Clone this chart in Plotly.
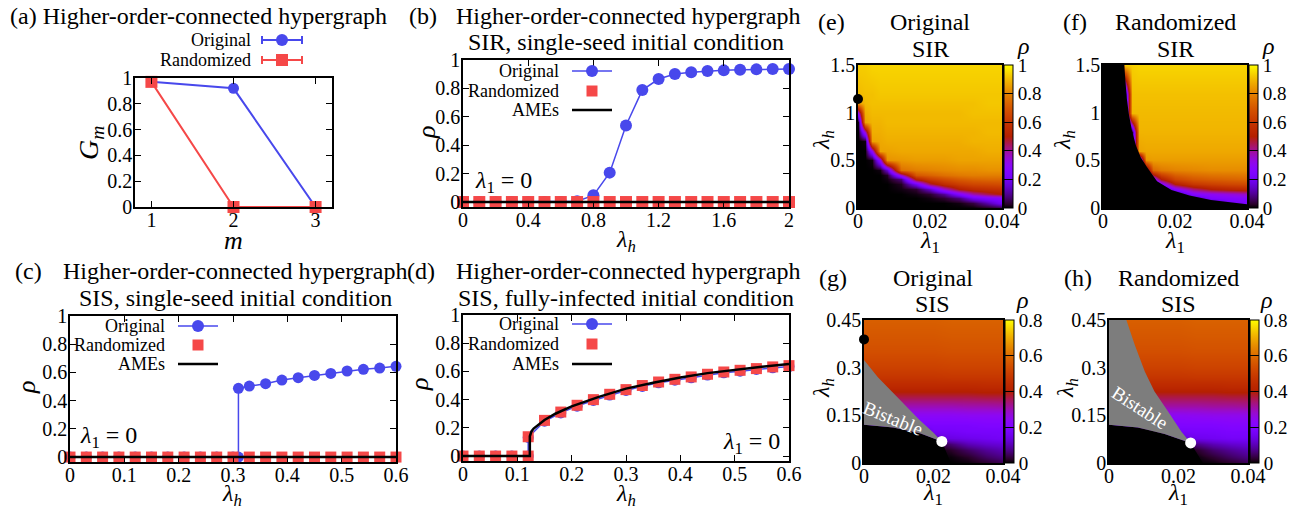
import plotly.graph_objects as go
import numpy as np

W, H = 1305, 510
SERIF = "Liberation Serif"
BLUE = "rgb(72,72,236)"
RED = "rgb(245,72,72)"
GRAY = "rgb(125,125,125)"

# ---------------- data ----------------
# (a) giant component of m-th order
m_vals = [1, 2, 3]
gm_original = [0.97, 0.92, 0.0]
gm_randomized = [0.97, 0.0, 0.0]

# (b) SIR, single seed
lh_b = [0.0, 0.1, 0.2, 0.3, 0.4, 0.5, 0.6, 0.7, 0.8, 0.9, 1.0, 1.1, 1.2, 1.3, 1.4, 1.5, 1.6, 1.7, 1.8, 1.9, 2.0]
rho_b_original = [0.0, 0.0, 0.0, 0.0, 0.0, 0.0, 0.0, 0.005, 0.047, 0.207, 0.539, 0.788, 0.866, 0.901,
                  0.913, 0.922, 0.927, 0.932, 0.934, 0.936, 0.936]
rho_b_randomized = [0.0, 0.0, 0.0, 0.0, 0.0, 0.0, 0.0, 0.0, 0.0, 0.0, 0.0, 0.0, 0.0, 0.0, 0.0, 0.0,
                    0.0, 0.0, 0.0, 0.0, 0.0]
ame_b_lh = [0.0, 2.0]
ame_b_rho = [0.0, 0.0]

# (c) SIS, single seed
lh_c_rand = [0.0, 0.03, 0.06, 0.09, 0.12, 0.15, 0.18, 0.21, 0.24, 0.27, 0.3, 0.33, 0.36, 0.39, 0.42,
             0.45, 0.48, 0.51, 0.54, 0.57, 0.6]
rho_c_rand = [0.0, 0.0, 0.0, 0.0, 0.0, 0.0, 0.0, 0.0, 0.0, 0.0, 0.0, 0.0, 0.0, 0.0, 0.0, 0.0, 0.0,
              0.0, 0.0, 0.0, 0.0]
lh_c_orig = [0.0, 0.03, 0.06, 0.09, 0.12, 0.15, 0.18, 0.21, 0.24, 0.27, 0.3, 0.31, 0.31, 0.33, 0.36,
             0.39, 0.42, 0.45, 0.48, 0.51, 0.54, 0.57, 0.6]
rho_c_orig = [0.0, 0.0, 0.0, 0.0, 0.0, 0.0, 0.0, 0.0, 0.0, 0.0, 0.0, 0.0, 0.487, 0.503, 0.52, 0.546,
              0.563, 0.579, 0.593, 0.61, 0.622, 0.631, 0.643]
ame_c_lh = [0.0, 0.6]
ame_c_rho = [0.0, 0.0]

# (d) SIS, fully infected
lh_d = [0.0, 0.03, 0.06, 0.09, 0.12, 0.12, 0.15, 0.18, 0.21, 0.24, 0.27, 0.3, 0.33, 0.36, 0.39, 0.42,
        0.45, 0.48, 0.51, 0.54, 0.57, 0.6]
rho_d_rand = [0.0, 0.0, 0.0, 0.0, 0.0, 0.137, 0.253, 0.312, 0.36, 0.40, 0.438, 0.471, 0.50, 0.525,
              0.544, 0.561, 0.58, 0.596, 0.608, 0.62, 0.632, 0.641]
rho_d_orig = [0.0, 0.0, 0.0, 0.0, 0.0, 0.132, 0.247, 0.306, 0.354, 0.394, 0.432, 0.465, 0.494, 0.519,
              0.538, 0.555, 0.574, 0.59, 0.602, 0.614, 0.626, 0.635]
ame_d_lh = [0.0, 0.123, 0.123, 0.126, 0.13, 0.14, 0.15, 0.17, 0.2, 0.25, 0.3, 0.35, 0.4, 0.45, 0.5,
            0.55, 0.6]
ame_d_rho = [0.0, 0.0, 0.14, 0.175, 0.195, 0.228, 0.256, 0.3, 0.352, 0.42, 0.478, 0.52, 0.557, 0.588,
             0.612, 0.633, 0.652]

# (e) Original SIR phase diagram
e_l1 = [0.0, 0.002, 0.004, 0.006, 0.008, 0.012, 0.016, 0.02, 0.024, 0.028, 0.032, 0.036, 0.04]
e_lh = [0.0, 0.05, 0.1, 0.15, 0.2, 0.25, 0.3, 0.35, 0.4, 0.5, 0.6, 0.7, 0.8, 0.9, 1.0, 1.1, 1.2, 1.5]
e_rho = [
    [0, 0, 0, 0, 0, 0, 0, 0, 0, 0, 0, 0.01, 0.03],
    [0, 0, 0, 0, 0, 0, 0, 0, 0, 0.01, 0.04, 0.12, 0.21],
    [0, 0, 0, 0, 0, 0, 0, 0.01, 0.03, 0.08, 0.2, 0.25, 0.27],
    [0, 0, 0, 0, 0, 0, 0.01, 0.03, 0.1, 0.25, 0.38, 0.45, 0.5],
    [0, 0, 0, 0, 0, 0.01, 0.03, 0.15, 0.35, 0.5, 0.55, 0.57, 0.58],
    [0, 0, 0, 0, 0, 0.02, 0.2, 0.45, 0.56, 0.62, 0.65, 0.66, 0.67],
    [0, 0, 0, 0, 0.01, 0.08, 0.52, 0.62, 0.67, 0.71, 0.73, 0.74, 0.74],
    [0, 0, 0, 0, 0.02, 0.35, 0.7, 0.73, 0.76, 0.78, 0.79, 0.79, 0.79],
    [0, 0, 0, 0.01, 0.15, 0.76, 0.79, 0.8, 0.81, 0.82, 0.82, 0.83, 0.83],
    [0, 0, 0.01, 0.3, 0.83, 0.84, 0.85, 0.85, 0.85, 0.86, 0.86, 0.86, 0.86],
    [0, 0, 0.3, 0.86, 0.86, 0.87, 0.87, 0.87, 0.87, 0.87, 0.87, 0.88, 0.88],
    [0, 0.01, 0.86, 0.87, 0.88, 0.88, 0.88, 0.88, 0.88, 0.88, 0.89, 0.89, 0.89],
    [0, 0.35, 0.88, 0.88, 0.89, 0.89, 0.89, 0.89, 0.89, 0.89, 0.89, 0.9, 0.9],
    [0.01, 0.86, 0.89, 0.89, 0.9, 0.9, 0.9, 0.9, 0.9, 0.9, 0.9, 0.9, 0.9],
    [0.3, 0.88, 0.9, 0.9, 0.9, 0.9, 0.9, 0.9, 0.9, 0.9, 0.91, 0.91, 0.91],
    [0.85, 0.9, 0.91, 0.91, 0.91, 0.91, 0.91, 0.91, 0.91, 0.91, 0.91, 0.92, 0.92],
    [0.9, 0.91, 0.91, 0.92, 0.92, 0.92, 0.92, 0.92, 0.92, 0.92, 0.92, 0.92, 0.92],
    [0.93, 0.93, 0.94, 0.94, 0.94, 0.94, 0.94, 0.94, 0.94, 0.94, 0.94, 0.94, 0.94],
]
e_dot_l1 = [0.0]
e_dot_lh = [1.143]

# (f) Randomized SIR phase diagram
f_l1 = [0.0, 0.004, 0.006, 0.008, 0.01, 0.012, 0.014, 0.016, 0.02, 0.025, 0.03, 0.035, 0.04]
f_lh = [0.0, 0.05, 0.1, 0.15, 0.2, 0.25, 0.3, 0.4, 0.5, 0.6, 0.8, 1.0, 1.2, 1.5]
f_rho = [
    [0, 0, 0, 0, 0, 0, 0, 0, 0, 0, 0, 0, 0],
    [0, 0, 0, 0, 0, 0, 0, 0, 0, 0, 0.05, 0.2, 0.24],
    [0, 0, 0, 0, 0, 0, 0, 0, 0, 0.1, 0.24, 0.26, 0.27],
    [0, 0, 0, 0, 0, 0, 0, 0, 0.05, 0.26, 0.3, 0.33, 0.36],
    [0, 0, 0, 0, 0, 0, 0, 0.02, 0.27, 0.42, 0.5, 0.53, 0.55],
    [0, 0, 0, 0, 0, 0, 0.03, 0.25, 0.5, 0.6, 0.63, 0.65, 0.66],
    [0, 0, 0, 0, 0, 0.01, 0.25, 0.5, 0.65, 0.7, 0.72, 0.73, 0.74],
    [0, 0, 0, 0, 0, 0.3, 0.74, 0.78, 0.8, 0.81, 0.82, 0.82, 0.82],
    [0, 0, 0, 0, 0.01, 0.84, 0.85, 0.85, 0.85, 0.85, 0.85, 0.85, 0.85],
    [0, 0, 0, 0, 0.86, 0.87, 0.87, 0.87, 0.87, 0.87, 0.87, 0.87, 0.87],
    [0, 0, 0, 0.02, 0.89, 0.89, 0.89, 0.89, 0.89, 0.89, 0.89, 0.89, 0.89],
    [0, 0, 0, 0.9, 0.9, 0.9, 0.9, 0.9, 0.9, 0.9, 0.9, 0.9, 0.9],
    [0, 0, 0.02, 0.91, 0.91, 0.91, 0.91, 0.91, 0.91, 0.91, 0.91, 0.91, 0.91],
    [0, 0, 0.93, 0.93, 0.94, 0.94, 0.94, 0.94, 0.94, 0.94, 0.94, 0.94, 0.94],
]
f_dead_l1 = [0.0, 0.0, 0.0059, 0.0062, 0.0066, 0.0072, 0.0081, 0.0092, 0.0105, 0.0122, 0.0135, 0.015,
             0.019, 0.024, 0.03, 0.035, 0.04, 0.04, 0.0]
f_dead_lh = [0.0, 1.5, 1.5, 1.35, 1.15, 0.98, 0.8, 0.65, 0.53, 0.43, 0.36, 0.28, 0.19, 0.13, 0.085,
             0.06, 0.04, 0.0, 0.0]

# (g) Original SIS phase diagram
g_l1 = [0.0, 0.01, 0.02, 0.025, 0.03, 0.035, 0.04]
g_lh = [0.0, 0.02, 0.04, 0.06, 0.08, 0.1, 0.12, 0.15, 0.18, 0.21, 0.24, 0.27, 0.3, 0.35, 0.4, 0.45]
g_rho = [
    [0, 0, 0, 0, 0.005, 0.02, 0.04],
    [0, 0, 0, 0.005, 0.02, 0.05, 0.07],
    [0, 0, 0, 0.02, 0.05, 0.08, 0.1],
    [0, 0, 0.02, 0.06, 0.1, 0.12, 0.13],
    [0, 0, 0.12, 0.14, 0.15, 0.16, 0.17],
    [0, 0, 0.17, 0.17, 0.18, 0.18, 0.18],
    [0.15, 0.18, 0.19, 0.19, 0.19, 0.2, 0.2],
    [0.23, 0.235, 0.235, 0.235, 0.24, 0.24, 0.24],
    [0.3, 0.3, 0.3, 0.3, 0.305, 0.305, 0.31],
    [0.37, 0.37, 0.37, 0.37, 0.37, 0.375, 0.375],
    [0.43, 0.43, 0.43, 0.43, 0.43, 0.435, 0.435],
    [0.475, 0.475, 0.475, 0.48, 0.48, 0.48, 0.48],
    [0.505, 0.505, 0.505, 0.51, 0.51, 0.51, 0.51],
    [0.54, 0.54, 0.54, 0.545, 0.545, 0.545, 0.545],
    [0.56, 0.56, 0.56, 0.565, 0.565, 0.565, 0.565],
    [0.575, 0.575, 0.575, 0.58, 0.58, 0.58, 0.58],
]
g_dead_l1 = [0.0, 0.0, 0.0084, 0.0161, 0.0224, 0.025, 0.0]
g_dead_lh = [0.0, 0.12, 0.112, 0.094, 0.068, 0.0, 0.0]
g_bist_l1 = [0.0, 0.004, 0.008, 0.012, 0.016, 0.02, 0.0224, 0.0161, 0.0084, 0.0, 0.0]
g_bist_lh = [0.324, 0.27, 0.225, 0.18, 0.135, 0.095, 0.068, 0.094, 0.112, 0.12, 0.324]
g_black_dot = ([0.0], [0.389])
g_white_dot = ([0.0224], [0.068])

# (h) Randomized SIS phase diagram
h_l1 = [0.0, 0.01, 0.02, 0.025, 0.03, 0.035, 0.04]
h_lh = [0.0, 0.02, 0.04, 0.06, 0.08, 0.1, 0.12, 0.15, 0.18, 0.21, 0.24, 0.27, 0.3, 0.35, 0.4, 0.45]
h_rho = [
    [0, 0, 0, 0, 0.005, 0.02, 0.04],
    [0, 0, 0, 0.005, 0.025, 0.05, 0.07],
    [0, 0, 0, 0.02, 0.055, 0.08, 0.1],
    [0, 0, 0.02, 0.07, 0.1, 0.12, 0.13],
    [0, 0, 0.13, 0.15, 0.16, 0.17, 0.17],
    [0, 0, 0.17, 0.18, 0.18, 0.19, 0.19],
    [0.19, 0.19, 0.2, 0.2, 0.2, 0.21, 0.21],
    [0.24, 0.24, 0.24, 0.245, 0.25, 0.25, 0.25],
    [0.31, 0.31, 0.31, 0.31, 0.315, 0.315, 0.32],
    [0.37, 0.37, 0.37, 0.37, 0.37, 0.375, 0.375],
    [0.43, 0.43, 0.43, 0.43, 0.43, 0.435, 0.435],
    [0.475, 0.475, 0.475, 0.48, 0.48, 0.48, 0.48],
    [0.505, 0.505, 0.505, 0.51, 0.51, 0.51, 0.51],
    [0.54, 0.54, 0.54, 0.545, 0.545, 0.545, 0.545],
    [0.56, 0.56, 0.56, 0.565, 0.565, 0.565, 0.565],
    [0.575, 0.575, 0.575, 0.58, 0.58, 0.58, 0.58],
]
h_dead_l1 = [0.0, 0.0, 0.0083, 0.016, 0.0235, 0.027, 0.0]
h_dead_lh = [0.0, 0.12, 0.112, 0.091, 0.063, 0.0, 0.0]
h_bist_l1 = [0.0, 0.0, 0.005, 0.0074, 0.0103, 0.0131, 0.017, 0.0208, 0.0235, 0.016, 0.0083, 0.0]
h_bist_lh = [0.12, 0.45, 0.45, 0.372, 0.288, 0.225, 0.162, 0.099, 0.063, 0.091, 0.112, 0.12]
h_white_dot = ([0.0235], [0.063])

# ---------------- layout helpers ----------------
# gnuplot-like palette (style)
cs = []
for i in range(41):
    t = i / 40
    r, g, b = t ** 0.5, t ** 3, max(0.0, np.sin(2 * np.pi * t))
    cs.append([t, "rgb(%d,%d,%d)" % (round(r * 255), round(g * 255), round(b * 255))])

fig = go.Figure()
annotations, shapes = [], []


def PX(x):
    return x / W


def PY(y):
    return 1 - y / H


def text(t, x, y, size, xanchor="center", angle=0, color="black"):
    annotations.append(dict(text=t, x=PX(x), y=PY(y), xref="paper", yref="paper", xanchor=xanchor,
                            yanchor="middle", showarrow=False, textangle=angle,
                            font=dict(family=SERIF, size=size, color=color)))


# panel geometry in pixels: (x0, x1, ytop, ybottom)
geo = {
    1: (135, 332, 78, 207), 2: (463, 789, 60, 207), 3: (70, 396, 316, 462), 4: (463, 789, 315, 461),
    5: (858, 1002, 65, 208), 6: (1103, 1247, 65, 208), 7: (864, 1003, 320, 463), 8: (1109, 1248, 320, 463),
}
ranges = {
    1: ([0.8, 3.2], [0, 1]), 2: ([0, 2], [-0.035, 1]), 3: ([0, 0.6], [-0.035, 1]), 4: ([0, 0.6], [-0.035, 1]),
    5: ([0, 0.04], [0, 1.5]), 6: ([0, 0.04], [0, 1.5]), 7: ([0, 0.04], [0, 0.45]), 8: ([0, 0.04], [0, 0.45]),
}
yt01 = ([0, 0.2, 0.4, 0.6, 0.8, 1], ["0", "0.2", "0.4", "0.6", "0.8", "1"])
xt06 = ([0, 0.1, 0.2, 0.3, 0.4, 0.5, 0.6], ["0", "0.1", "0.2", "0.3", "0.4", "0.5", "0.6"])
xt04 = ([0, 0.02, 0.04], ["0", "0.02", "0.04"])
ticks = {
    1: (([1, 2, 3], ["1", "2", "3"]), yt01),
    2: (([0, 0.4, 0.8, 1.2, 1.6, 2], ["0", "0.4", "0.8", "1.2", "1.6", "2"]), yt01),
    3: (xt06, yt01), 4: (xt06, yt01),
    5: (xt04, ([0, 0.5, 1, 1.5], ["0", "0.5", "1", "1.5"])),
    6: (xt04, ([0, 0.5, 1, 1.5], ["0", "0.5", "1", "1.5"])),
    7: (xt04, ([0, 0.15, 0.3, 0.45], ["0", "0.15", "0.3", "0.45"])),
    8: (xt04, ([0, 0.15, 0.3, 0.45], ["0", "0.15", "0.3", "0.45"])),
}
for k in range(1, 9):
    x0, x1, yt, yb = geo[k]
    heat = k >= 5
    common = dict(showline=True, linecolor="black", linewidth=1.5, mirror="allticks" if not heat else True,
                  ticks="" if heat else "inside", ticklen=6, tickwidth=1.2, tickcolor="black",
                  showgrid=False, zeroline=False,
                  tickfont=dict(family=SERIF, size=20, color="black"))
    (xv, xtx), (yv, ytx) = ticks[k]
    fig.layout["xaxis%d" % k] = dict(domain=[PX(x0), PX(x1)], anchor="y%d" % k, range=ranges[k][0],
                                     tickvals=xv, ticktext=xtx, ticklabelstandoff=-6, **common)
    fig.layout["yaxis%d" % k] = dict(domain=[PY(yb), PY(yt)], anchor="x%d" % k, range=ranges[k][1],
                                     tickvals=yv, ticktext=ytx, ticklabelstandoff=-3, **common)


def sc(k, x, y, **kw):
    fig.add_trace(go.Scatter(x=x, y=y, xaxis="x%d" % k, yaxis="y%d" % k, showlegend=False,
                             cliponaxis=False, hoverinfo="skip", **kw))


# (a)
sc(1, m_vals, gm_original, mode="lines+markers", line=dict(color=BLUE, width=2),
   marker=dict(symbol="circle", size=11, color=BLUE))
sc(1, m_vals, gm_randomized, mode="lines+markers", line=dict(color=RED, width=2),
   marker=dict(symbol="square", size=12, color=RED))
# (b)
sc(2, lh_b, rho_b_original, mode="lines+markers", line=dict(color=BLUE, width=1.5),
   marker=dict(symbol="circle", size=12, color=BLUE))
sc(2, lh_b, rho_b_randomized, mode="markers", marker=dict(symbol="square", size=12, color=RED))
sc(2, ame_b_lh, ame_b_rho, mode="lines", line=dict(color="black", width=2.5))
# (c)
sc(3, lh_c_orig, rho_c_orig, mode="lines+markers", line=dict(color=BLUE, width=1.5),
   marker=dict(symbol="circle", size=11, color=BLUE))
sc(3, lh_c_rand, rho_c_rand, mode="markers", marker=dict(symbol="square", size=11, color=RED))
sc(3, ame_c_lh, ame_c_rho, mode="lines", line=dict(color="black", width=2.5))
# (d)
sc(4, lh_d, rho_d_orig, mode="lines+markers", line=dict(color=BLUE, width=1.5),
   marker=dict(symbol="circle", size=11, color=BLUE))
sc(4, lh_d, rho_d_rand, mode="markers", marker=dict(symbol="square", size=11, color=RED))
sc(4, ame_d_lh, ame_d_rho, mode="lines", line=dict(color="black", width=2.5))


def cbar(k, zmax, vals, texts):
    x0, x1, yt, yb = geo[k]
    return dict(x=PX(x1 + 2), xanchor="left", xpad=0, y=PY(yb), yanchor="bottom", ypad=0,
                len=yb - yt, lenmode="pixels", thickness=9, thicknessmode="pixels",
                outlinewidth=1, outlinecolor="black", ticks="inside", ticklen=9, tickwidth=1,
                tickcolor="black", tickvals=vals, ticktext=texts,
                tickfont=dict(family=SERIF, size=19, color="black"))


cb1 = ([0, 0.2, 0.4, 0.6, 0.8, 1], ["0", "0.2", "0.4", "0.6", "0.8", "1"])
cb08 = ([0, 0.2, 0.4, 0.6, 0.8], ["0", "0.2", "0.4", "0.6", "0.8"])
for k, (xx, yy, zz, zmax, cb) in {5: (e_l1, e_lh, e_rho, 1.0, cb1), 6: (f_l1, f_lh, f_rho, 1.0, cb1),
                                  7: (g_l1, g_lh, g_rho, 0.8, cb08), 8: (h_l1, h_lh, h_rho, 0.8, cb08)}.items():
    fig.add_trace(go.Heatmap(x=xx, y=yy, z=zz, xaxis="x%d" % k, yaxis="y%d" % k, zmin=0, zmax=zmax,
                             colorscale=cs, zsmooth="best", hoverinfo="skip",
                             colorbar=cbar(k, zmax, *cb)))


def poly(k, x, y, color):
    fig.add_trace(go.Scatter(x=x, y=y, xaxis="x%d" % k, yaxis="y%d" % k, mode="lines", fill="toself",
                             fillcolor=color, line=dict(width=0, color=color), showlegend=False,
                             hoverinfo="skip"))


poly(6, f_dead_l1, f_dead_lh, "black")
poly(7, g_dead_l1, g_dead_lh, "black")
poly(7, g_bist_l1, g_bist_lh, GRAY)
poly(8, h_dead_l1, h_dead_lh, "black")
poly(8, h_bist_l1, h_bist_lh, GRAY)

sc(5, e_dot_l1, e_dot_lh, mode="markers", marker=dict(size=10, color="black"))
sc(7, g_black_dot[0], g_black_dot[1], mode="markers", marker=dict(size=10, color="black"))
sc(7, g_white_dot[0], g_white_dot[1], mode="markers", marker=dict(size=11, color="white"))
sc(8, h_white_dot[0], h_white_dot[1], mode="markers", marker=dict(size=11, color="white"))

# "Bistable" labels
for k, (bx, by, ang) in {7: (0.0084, 0.141, 22), 8: (0.0088, 0.175, 33)}.items():
    annotations.append(dict(text="Bistable", x=bx, y=by, xref="x%d" % k, yref="y%d" % k, showarrow=False,
                            textangle=ang, font=dict(family=SERIF, size=19, color="white")))

# ---------------- titles ----------------
HL = "Higher-order-connected hypergraph"
text("(a) " + HL, 8, 16, 24, xanchor="left")
text("(b)", 407, 16, 24, xanchor="left")
text(HL, 628, 16, 24)
text("SIR, single-seed initial condition", 626, 42, 24)
text("(c)", 13, 271, 24, xanchor="left")
text(HL, 235, 271, 24)
text("SIS, single-seed initial condition", 236, 298, 24)
text("(d)", 405, 271, 24, xanchor="left")
text(HL, 628, 271, 24)
text("SIS, fully-infected initial condition", 626, 298, 24)
text("(e)", 816, 22, 24, xanchor="left")
text("Original", 930, 22, 24)
text("SIR", 930, 49, 24)
text("(f)", 1061, 22, 24, xanchor="left")
text("Randomized", 1175, 22, 24)
text("SIR", 1175, 49, 24)
text("(g)", 817, 278, 24, xanchor="left")
text("Original", 933, 278, 24)
text("SIS", 933, 304, 24)
text("(h)", 1062, 278, 24, xanchor="left")
text("Randomized", 1178, 278, 24)
text("SIS", 1178, 304, 24)

# axis titles
LH = "<i>λ</i><sub><i>h</i></sub>"
L1 = "<i>λ</i><sub>1</sub>"
RHO = "<i>ρ</i>"
text("<i>G</i><sub><i>m</i></sub>", 90, 143, 28, angle=-90)
text("<i>m</i>", 233, 240, 26)
text(RHO, 427, 133, 26, angle=-90)
text(LH, 626, 241, 24)
text(RHO, 26, 388, 26, angle=-90)
text(LH, 232, 495, 24)
text(RHO, 419, 385, 26, angle=-90)
text(LH, 626, 495, 24)
text(LH, 823, 140, 24, angle=-90)
text(L1, 930, 242, 24)
text(LH, 1064, 140, 24, angle=-90)
text(L1, 1175, 242, 24)
text(LH, 823, 388, 24, angle=-90)
text(L1, 933, 494, 24)
text(LH, 1067, 388, 24, angle=-90)
text(L1, 1178, 494, 24)
for cx, cy in [(1023, 46), (1268, 46), (1022, 300), (1266, 300)]:
    text(RHO, cx, cy, 24)

# λ1 = 0 labels
text("<i>λ</i><sub>1</sub> = 0", 503, 182, 24)
text("<i>λ</i><sub>1</sub> = 0", 109, 437, 24)
text("<i>λ</i><sub>1</sub> = 0", 752, 443, 24)


# ---------------- hand-drawn legends ----------------
def hline(x0, x1, y, color, width):
    shapes.append(dict(type="line", xref="paper", yref="paper", x0=PX(x0), x1=PX(x1), y0=PY(y), y1=PY(y),
                       line=dict(color=color, width=width)))


def vline(x, y0, y1, color, width):
    shapes.append(dict(type="line", xref="paper", yref="paper", x0=PX(x), x1=PX(x), y0=PY(y0), y1=PY(y1),
                       line=dict(color=color, width=width)))


def mark(kind, x, y, size, color):
    shapes.append(dict(type=kind, xref="paper", yref="paper", xsizemode="pixel", ysizemode="pixel",
                       xanchor=PX(x), yanchor=PY(y), x0=-size / 2, x1=size / 2, y0=-size / 2, y1=size / 2,
                       fillcolor=color, line=dict(width=0)))


# (a)
text("Original", 253, 40, 18, xanchor="right")
text("Randomized", 253, 60, 18, xanchor="right")
for y, col, kind in [(40, BLUE, "circle"), (60, RED, "rect")]:
    hline(262, 302, y, col, 2)
    vline(262, y - 4, y + 4, col, 2)
    vline(302, y - 4, y + 4, col, 2)
    mark(kind, 282, y, 12, col)

# (b), (c), (d)
for tx, ys in [(561, (71, 91, 110)), (167, (326, 345, 364)), (561, (324, 344, 364))]:
    text("Original", tx, ys[0], 18, xanchor="right")
    text("Randomized", tx, ys[1], 18, xanchor="right")
    text("AMEs", tx, ys[2], 18, xanchor="right")
    hline(tx + 11, tx + 51, ys[0], BLUE, 1.5)
    mark("circle", tx + 31, ys[0], 12, BLUE)
    mark("rect", tx + 31, ys[1], 11, RED)
    hline(tx + 11, tx + 51, ys[2], "black", 2.5)

fig.update_layout(width=W, height=H, margin=dict(l=0, r=0, t=0, b=0, pad=0, autoexpand=False),
                  paper_bgcolor="white", plot_bgcolor="white", annotations=annotations, shapes=shapes,
                  showlegend=False, font=dict(family=SERIF, color="black"))

fig.write_html("out.html", config={"displayModeBar": False},
               post_script="document.body.style.margin='0px';")
